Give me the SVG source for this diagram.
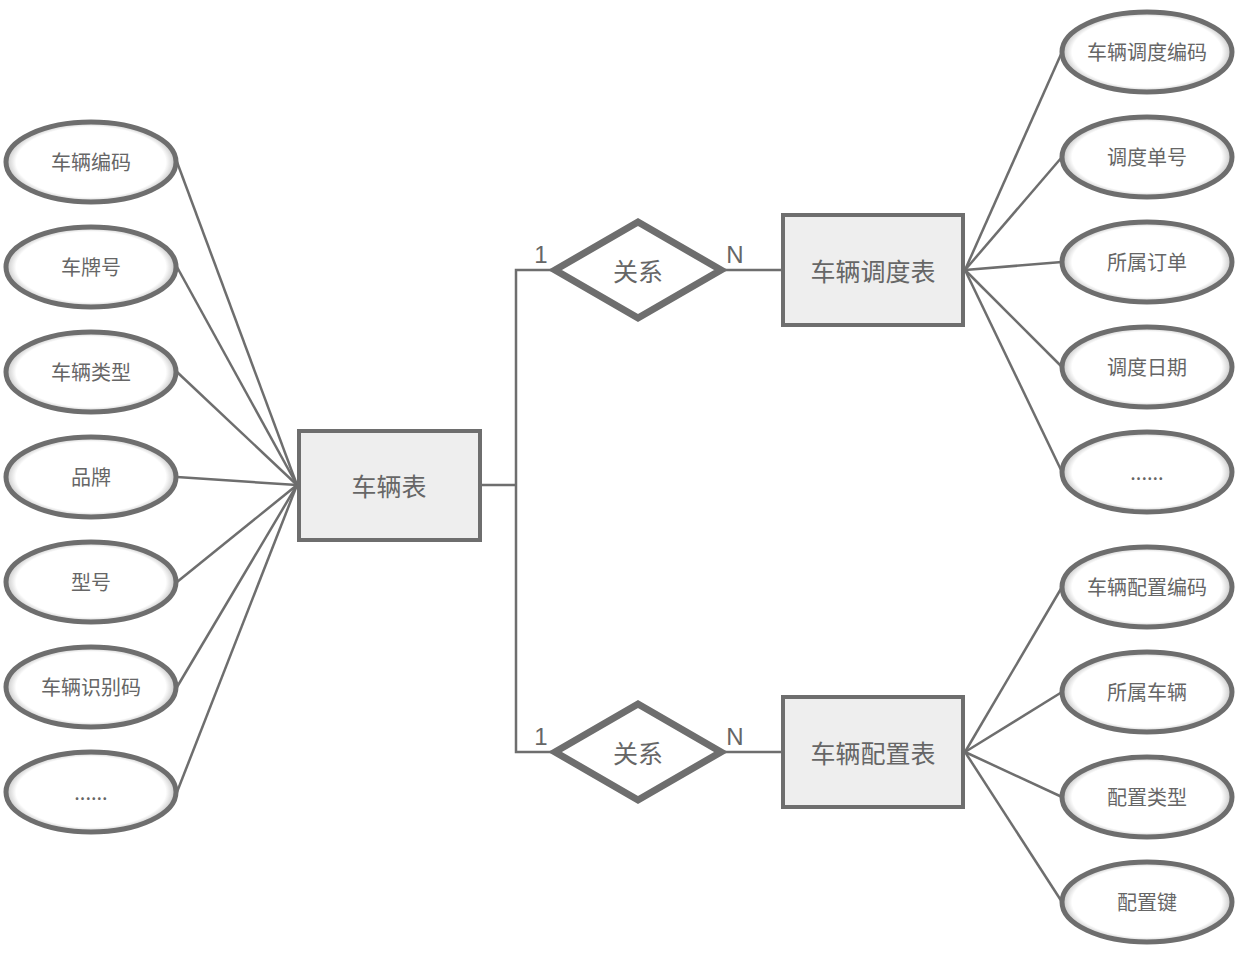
<svg xmlns="http://www.w3.org/2000/svg" width="1242" height="970" viewBox="0 0 1242 970">
<defs>
<radialGradient id="eg" cx="50%" cy="50%" r="50%">
<stop offset="0.88" stop-color="#ffffff"/>
<stop offset="1" stop-color="#c4c4c4"/>
</radialGradient>
<style>
.at ellipse{fill:url(#eg);stroke:#6e6e6e;stroke-width:5}
.t{font-family:"Noto Sans CJK SC","Microsoft YaHei",sans-serif;fill:#666;text-anchor:middle;dominant-baseline:central}
.at text{font-size:20px}
.en rect{fill:#eeeeee;stroke:#6e6e6e;stroke-width:4}
.en text{font-size:25px}
.rel polygon{fill:#fff;stroke:#6e6e6e;stroke-width:7;stroke-linejoin:miter}
.rel text{font-size:25px}
.ln{fill:none;stroke:#6e6e6e;stroke-width:2.5}
.card{font-family:"Liberation Sans",Arial,sans-serif;font-size:24px;fill:#666;text-anchor:middle}
</style>
</defs>
<rect width="1242" height="970" fill="#fff"/>
<g id="connectors" class="ln">
<line x1="177" y1="162" x2="297" y2="485"/>
<line x1="177" y1="267" x2="297" y2="485"/>
<line x1="177" y1="372" x2="297" y2="485"/>
<line x1="177" y1="477" x2="297" y2="485"/>
<line x1="177" y1="582" x2="297" y2="485"/>
<line x1="177" y1="687" x2="297" y2="485"/>
<line x1="177" y1="792" x2="297" y2="485"/>
<polyline points="480,485 516,485"/>
<polyline points="553,270 516,270 516,752 553,752"/>
<line x1="722" y1="270" x2="783" y2="270"/>
<line x1="722" y1="752" x2="783" y2="752"/>
<line x1="965" y1="270" x2="1062" y2="52"/>
<line x1="965" y1="270" x2="1062" y2="157"/>
<line x1="965" y1="270" x2="1062" y2="262"/>
<line x1="965" y1="270" x2="1062" y2="367"/>
<line x1="965" y1="270" x2="1062" y2="472"/>
<line x1="965" y1="752" x2="1062" y2="587"/>
<line x1="965" y1="752" x2="1062" y2="692"/>
<line x1="965" y1="752" x2="1062" y2="797"/>
<line x1="965" y1="752" x2="1062" y2="902"/>
</g>
<g id="cards">
<text class="card" x="541" y="263">1</text>
<text class="card" x="735" y="263">N</text>
<text class="card" x="541" y="745">1</text>
<text class="card" x="735" y="745">N</text>
</g>
<g id="a1" class="at"><ellipse cx="91" cy="162" rx="85" ry="40"/><text class="t" x="91" y="161">车辆编码</text></g>
<g id="a2" class="at"><ellipse cx="91" cy="267" rx="85" ry="40"/><text class="t" x="91" y="266">车牌号</text></g>
<g id="a3" class="at"><ellipse cx="91" cy="372" rx="85" ry="40"/><text class="t" x="91" y="371">车辆类型</text></g>
<g id="a4" class="at"><ellipse cx="91" cy="477" rx="85" ry="40"/><text class="t" x="91" y="476">品牌</text></g>
<g id="a5" class="at"><ellipse cx="91" cy="582" rx="85" ry="40"/><text class="t" x="91" y="581">型号</text></g>
<g id="a6" class="at"><ellipse cx="91" cy="687" rx="85" ry="40"/><text class="t" x="91" y="686">车辆识别码</text></g>
<g id="a7" class="at"><ellipse cx="91" cy="792" rx="85" ry="40"/><text class="t" x="91" y="791">......</text></g>
<g id="b1" class="at"><ellipse cx="1147" cy="52" rx="85" ry="40"/><text class="t" x="1147" y="51">车辆调度编码</text></g>
<g id="b2" class="at"><ellipse cx="1147" cy="157" rx="85" ry="40"/><text class="t" x="1147" y="156">调度单号</text></g>
<g id="b3" class="at"><ellipse cx="1147" cy="262" rx="85" ry="40"/><text class="t" x="1147" y="261">所属订单</text></g>
<g id="b4" class="at"><ellipse cx="1147" cy="367" rx="85" ry="40"/><text class="t" x="1147" y="366">调度日期</text></g>
<g id="b5" class="at"><ellipse cx="1147" cy="472" rx="85" ry="40"/><text class="t" x="1147" y="471">......</text></g>
<g id="c1" class="at"><ellipse cx="1147" cy="587" rx="85" ry="40"/><text class="t" x="1147" y="586">车辆配置编码</text></g>
<g id="c2" class="at"><ellipse cx="1147" cy="692" rx="85" ry="40"/><text class="t" x="1147" y="691">所属车辆</text></g>
<g id="c3" class="at"><ellipse cx="1147" cy="797" rx="85" ry="40"/><text class="t" x="1147" y="796">配置类型</text></g>
<g id="c4" class="at"><ellipse cx="1147" cy="902" rx="85" ry="40"/><text class="t" x="1147" y="901">配置键</text></g>
<g id="e1" class="en"><rect x="299" y="431" width="181" height="109"/><text class="t" x="389" y="485">车辆表</text></g>
<g id="e2" class="en"><rect x="783" y="215" width="180" height="110"/><text class="t" x="873" y="270">车辆调度表</text></g>
<g id="e3" class="en"><rect x="783" y="697" width="180" height="110"/><text class="t" x="873" y="752">车辆配置表</text></g>
<g id="r1" class="rel"><polygon points="555,270 638,222 721,270 638,318"/><text class="t" x="638" y="270">关系</text></g>
<g id="r2" class="rel"><polygon points="555,752 638,704 721,752 638,800"/><text class="t" x="638" y="752">关系</text></g>
</svg>
